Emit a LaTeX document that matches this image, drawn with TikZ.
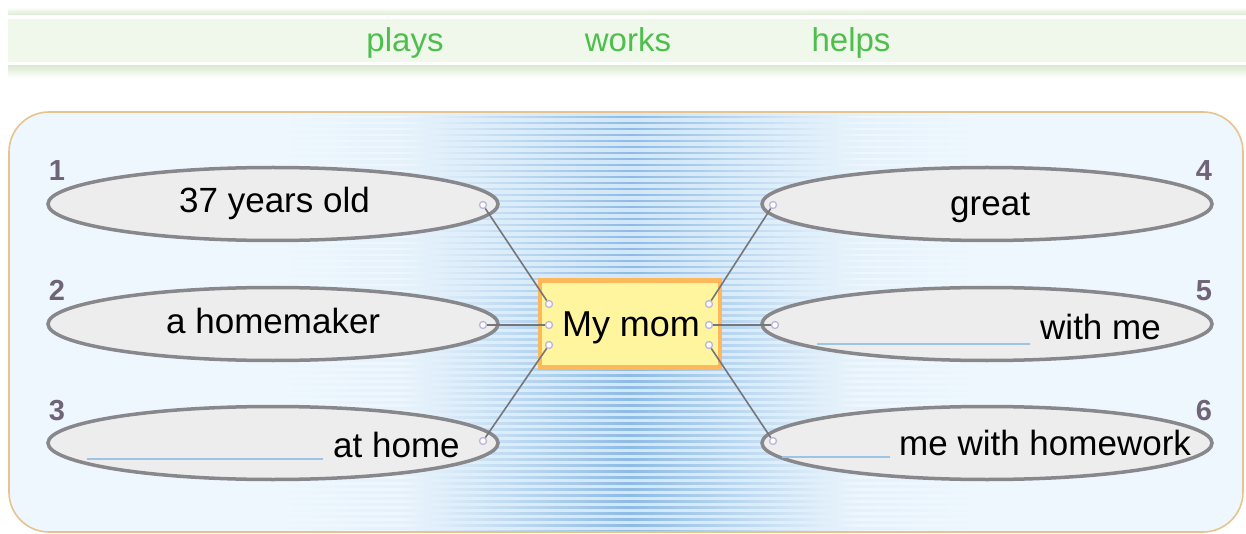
\documentclass[tikz,border=0pt]{standalone}
\usepackage{fontspec}
\setmainfont{Liberation Sans}
\usetikzlibrary{shapes.geometric}
\definecolor{panelfill}{HTML}{EEF7FD}
\definecolor{panelline}{HTML}{E6C48E}
\definecolor{glow}{HTML}{8DBBE5}
\definecolor{glowlite}{HTML}{D2E7F8}
\definecolor{ellfill}{HTML}{EDEDED}
\definecolor{ellline}{HTML}{87878C}
\definecolor{boxfill}{HTML}{FFF59E}
\definecolor{boxline}{HTML}{FDB85C}
\definecolor{numcol}{HTML}{6F6478}
\definecolor{blankcol}{HTML}{9DC4E4}
\definecolor{dotcol}{HTML}{BDB5DD}
\definecolor{linkcol}{HTML}{76767A}
\definecolor{wordcol}{HTML}{4CBF4C}
\definecolor{bandfill}{HTML}{F0F8EB}
\definecolor{barfill}{HTML}{DCEAD2}
\tikzset{
  ell/.style={ellipse, draw=ellline, fill=ellfill, line width=3.5pt, minimum width=450pt, minimum height=73pt, inner sep=0pt},
  txt/.style={anchor=base west, inner sep=0pt, font=\fontsize{35}{40}\selectfont},
  numlbl/.style={anchor=base, inner sep=0pt, text=numcol, font=\fontsize{29}{34}\selectfont\bfseries},
  word/.style={anchor=base, inner sep=0pt, text=wordcol, font=\fontsize{33}{38}\selectfont},
  dotnode/.style={circle, draw=dotcol, fill=white, line width=1.3pt, minimum size=7pt, inner sep=0pt},
  link/.style={draw=linkcol, line width=1.6pt},
  blank/.style={draw=blankcol, line width=1.3pt},
}
\begin{document}
\begin{tikzpicture}[x=1pt,y=-1pt]
\useasboundingbox (0,0) rectangle (1246,534);
% top band
\shade[top color=white, bottom color=barfill] (8,7) rectangle (1246,15);
\fill[bandfill] (8,19) rectangle (1246,62);
\shade[top color=barfill, bottom color=white] (8,66) rectangle (1246,78);
\node[word] (w1) at (405,52) {plays};
\node[word] (w2) at (628,52) {works};
\node[word] (w3) at (851,52) {helps};
% panel
\fill[panelfill] (9,112) [rounded corners=40pt] rectangle (1243,532);
\begin{scope}
  \clip[rounded corners=40pt] (9,112) rectangle (1243,532);
  \shade[left color=panelfill, right color=panelfill, middle color=glow] (400,112) rectangle (860,534);
  \foreach \yy in {113,119,...,534} {
    \shade[left color=panelfill, right color=panelfill, middle color=glowlite] (280,\yy) rectangle (980,\yy+2.6);
  }
\end{scope}
\draw[panelline, line width=1.6pt, rounded corners=40pt] (9,112) rectangle (1243,532);
% ellipses
\node[ell] (e1) at (273,204) {};
\node[ell] (e2) at (273,324) {};
\node[ell] (e3) at (273,443) {};
\node[ell] (e4) at (987,204) {};
\node[ell] (e5) at (987,324) {};
\node[ell] (e6) at (987,443) {};
% numbers
\node[numlbl] (n1) at (57,181) {1};
\node[numlbl] (n2) at (57,301) {2};
\node[numlbl] (n3) at (57,420) {3};
\node[numlbl] (n4) at (1204,181) {4};
\node[numlbl] (n5) at (1204,301) {5};
\node[numlbl] (n6) at (1204,420) {6};
% texts
\node[txt] (t1) at (179,213) {37 years old};
\node[txt] (t2) at (166,333) {a homemaker};
\node[txt] (t3) at (333,457) {at home};
\node[txt] (t4) at (950,216) {great};
\node[txt] (t5) at (1040,339) {with me};
\node[txt] (t6) at (899,455) {me with homework};
% blanks
\coordinate (b3a) at (87,459); \coordinate (b3b) at (323,459);
\coordinate (b5a) at (817,344); \coordinate (b5b) at (1030,344);
\coordinate (b6a) at (782,457); \coordinate (b6b) at (890,457);
\draw[blank] (b3a) -- (b3b);
\draw[blank] (b5a) -- (b5b);
\draw[blank] (b6a) -- (b6b);
% central box
\node[draw=boxline, fill=boxfill, line width=4.5pt, minimum width=180pt, minimum height=87pt, inner sep=0pt] (box) at (630,324) {};
\node[inner sep=0pt, anchor=base, font=\fontsize{36}{40}\selectfont] (mom) at (631,336) {My mom};
% dots
\node[dotnode] (d1) at (483,205) {};
\node[dotnode] (d2) at (483,325) {};
\node[dotnode] (d3) at (483,441) {};
\node[dotnode] (d4) at (773,205) {};
\node[dotnode] (d5) at (775,325) {};
\node[dotnode] (d6) at (773,441) {};
\node[dotnode] (c1) at (549,304) {};
\node[dotnode] (c2) at (549,325) {};
\node[dotnode] (c3) at (549,345) {};
\node[dotnode] (c4) at (709,304) {};
\node[dotnode] (c5) at (709,325) {};
\node[dotnode] (c6) at (709,345) {};
% links
\draw[link] (d1) -- (c1);
\draw[link] (d2) -- (c2);
\draw[link] (d3) -- (c3);
\draw[link] (d4) -- (c4);
\draw[link] (d5) -- (c5);
\draw[link] (d6) -- (c6);
\end{tikzpicture}
\end{document}
